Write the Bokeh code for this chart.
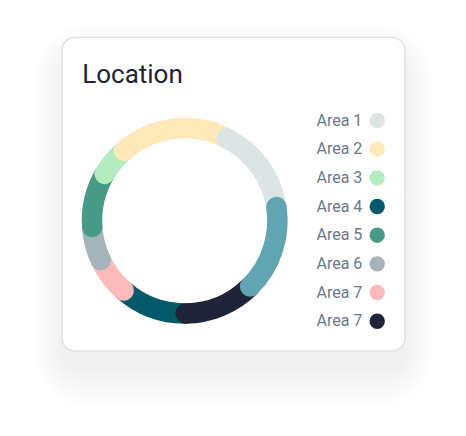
import numpy as np
from bokeh.plotting import figure
from bokeh.models import Range1d, ColumnDataSource
from bokeh.core.properties import value
from bokeh.embed import file_html
from bokeh.resources import INLINE

# ---- data ----
title = "Location"
# donut segments, clockwise from the start angle
seg_labels = ["Area 2", "Area 1", "Other", "Area 7", "Area 4", "Area 7", "Area 6", "Area 5", "Area 3"]
seg_values = [18.8, 15.2, 14.9, 12.3, 11.6, 6.6, 5.9, 9.5, 5.2]
seg_colors = ["#FFE9B8", "#DCE4E5", "#62A5B2", "#1F233A", "#045A6A", "#FDBABA", "#A5B4BA", "#479A86", "#B4EBBF"]
draw_order = [4, 5, 6, 7, 8, 0, 1, 3, 2]

legend_labels = ["Area 1", "Area 2", "Area 3", "Area 4", "Area 5", "Area 6", "Area 7", "Area 7"]
legend_colors = ["#DCE4E5", "#FFE9B8", "#B4EBBF", "#045A6A", "#479A86", "#A5B4BA", "#FDBABA", "#1F233A"]

# ---- layout (pixels, y up) ----
W, H = 450, 420
def py(Y):  # screen y -> data y
    return H - Y
def px(X):
    return X

def rounded_rect(l, r, b, t, rad):
    rad = min(rad, (r - l) / 2, (t - b) / 2)
    xs, ys = [], []
    corners = [(r - rad, t - rad, 0), (l + rad, t - rad, 90), (l + rad, b + rad, 180), (r - rad, b + rad, 270)]
    for ccx, ccy, a0 in corners:
        a = np.deg2rad(np.linspace(a0, a0 + 90, 12))
        xs.extend(ccx + rad * np.cos(a))
        ys.extend(ccy + rad * np.sin(a))
    return xs, ys

p = figure(width=W, height=H, output_backend="svg", toolbar_location=None,
           x_range=Range1d(0, W), y_range=Range1d(0, H), min_border=0)
p.axis.visible = False
p.grid.visible = False
p.outline_line_color = None
p.background_fill_color = "white"
p.border_fill_color = "white"

# card shadow
card_l, card_r, card_t, card_b = px(61.5), px(404.5), py(37), py(350.5)
sx, sy = [], []
for k in range(14):
    g = 3 * (k + 1)
    xs, ys = rounded_rect(card_l - 0.65 * g, card_r + 0.65 * g, card_b - g - 16, card_t + g - 26, 14 + g)
    sx.append(xs)
    sy.append(ys)
p.patches(sx, sy, fill_color="black", fill_alpha=0.003, line_color=None)
# card
xs, ys = rounded_rect(card_l, card_r, card_b, card_t, 13)
p.patch(xs, ys, fill_color="white", line_color="#E2E2E2", line_width=1.5)

# donut
cx, cy = px(184.2), py(220.3)
r_mid, ring_w = 92.7, 20.5
start_deg = 130.9
vals = np.array(seg_values, dtype=float)
cum = np.concatenate([[0], np.cumsum(vals)]) / vals.sum() * 2 * np.pi
starts = np.deg2rad(start_deg) - cum[:-1]
ends = np.deg2rad(start_deg) - cum[1:]
for i in draw_order:
    p.arc(x=cx, y=cy, radius=r_mid, start_angle=ends[i], end_angle=starts[i],
          line_color=seg_colors[i], line_width=ring_w, line_cap="round")

# title
p.text(x=[px(81.7)], y=[py(83.3) + 10], text=[title], text_font=value("Roboto"),
       text_font_size="26px", text_color="#1E2235", text_baseline="alphabetic")

# legend
row_y = np.array([py(120 + i * 28.67) for i in range(len(legend_labels))])
src = ColumnDataSource(dict(y=row_y, ty=row_y - 5.8 + 6.2, label=legend_labels, color=legend_colors,
                            tx=[px(316)] * len(legend_labels), cx=[px(376.7)] * len(legend_labels)))
p.text(x="tx", y="ty", text="label", source=src, text_font=value("Roboto"),
       text_font_size="16px", text_color="#6E7888", text_baseline="alphabetic")
p.scatter(x="cx", y="y", source=src, size=15.4, color="color", line_color=None)

open("out.html", "w").write(file_html(p, INLINE))
